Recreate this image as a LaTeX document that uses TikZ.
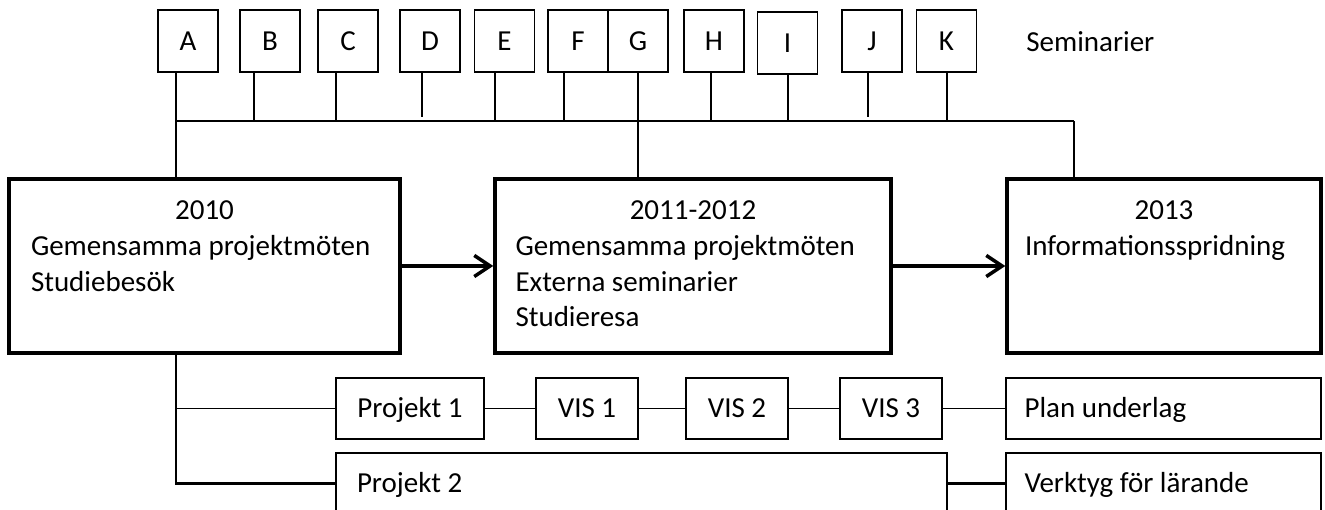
\documentclass[tikz,border=0pt]{standalone}
\usepackage{fontspec}
\setmainfont{Carlito}
\usepackage{tikz}
\usetikzlibrary{arrows.meta, positioning, calc}
\setlength{\parindent}{0pt}
\newcommand{\diagfont}{\fontsize{16.5}{20.4}\selectfont}

\begin{document}
\begin{tikzpicture}[
  seminar/.style={draw, line width=0.9pt, minimum width=1.2cm, minimum height=1.24cm,
                  inner sep=0pt, font=\diagfont, text height=10.5pt, text depth=0pt},
  phase/.style={draw, line width=2pt, minimum height=3.48cm, inner sep=0pt},
  phasetext/.style={anchor=north, inner sep=0pt, font=\diagfont, align=flush left},
  item/.style={draw, line width=0.9pt, minimum height=1.22cm, inner sep=0pt,
               font=\diagfont, text height=10.5pt, text depth=0pt},
  wideitem/.style={item, align=flush left, inner xsep=0.37cm},
  link/.style={line width=0.9pt},
  heavy/.style={line width=1.5pt},
  arrow/.style={-{Straight Barb[length=9pt, width=12pt]}, line width=2pt}
]
  \useasboundingbox (0,0) rectangle (26.5,-10.2);
  \clip (0,0) rectangle (26.5,-10.2);

  % Seminar row
  \node[seminar] (sA) at (3.76,-0.82) {A};
  \node[seminar] (sB) at (5.40,-0.82) {B};
  \node[seminar] (sC) at (6.96,-0.82) {C};
  \node[seminar] (sD) at (8.60,-0.82) {D};
  \node[seminar] (sE) at (10.09,-0.82) {E};
  \node[seminar] (sF) at (11.56,-0.82) {F};
  \node[seminar] (sG) at (12.76,-0.82) {G};
  \node[seminar] (sH) at (14.28,-0.82) {H};
  \node[seminar] (sI) at (15.75,-0.86) {I};
  \node[seminar] (sJ) at (17.44,-0.82) {J};
  \node[seminar] (sK) at (18.93,-0.82) {K};
  \node[anchor=west, inner sep=0pt, font=\diagfont, text height=10.5pt, text depth=0pt]
    (sem) at (20.52,-0.85) {Seminarier};

  % Phases
  \node[phase, minimum width=7.82cm] (p2010) at (4.09,-5.32) {};
  \node[phase, minimum width=7.92cm] (p2011) at (13.86,-5.32) {};
  \node[phase, minimum width=6.28cm] (p2013) at (23.28,-5.32) {};
  \node[phasetext, text width=6.94cm] (t2010) at ([yshift=-0.46cm]p2010.north)
    {\makebox[\hsize]{2010}\\ Gemensamma projektmöten\\ Studiebesök};
  \node[phasetext, text width=7.10cm] (t2011) at ([yshift=-0.46cm]p2011.north)
    {\makebox[\hsize]{2011-2012}\\ Gemensamma projektmöten\\ Externa seminarier\\ Studieresa};
  \node[phasetext, text width=5.56cm] (t2013) at ([yshift=-0.46cm]p2013.north)
    {\makebox[\hsize]{2013}\\ Informationsspridning};

  % Projects row
  \node[item, minimum width=2.96cm] (proj1) at (8.20,-8.17) {Projekt 1};
  \node[item, minimum width=2.04cm] (vis1) at (11.74,-8.17) {VIS 1};
  \node[item, minimum width=2.04cm] (vis2) at (14.74,-8.17) {VIS 2};
  \node[item, minimum width=2.04cm] (vis3) at (17.82,-8.17) {VIS 3};
  \node[wideitem, text width=5.56cm] (plan) at (23.27,-8.17) {Plan underlag};
  \node[wideitem, text width=11.38cm, inner xsep=0.42cm] (proj2) at (12.83,-9.67) {Projekt 2};
  \node[wideitem, text width=5.56cm] (tool) at (23.27,-9.67) {Verktyg för lärande};

  % Seminar bus
  \coordinate (busW) at (3.52,-2.42);
  \coordinate (busE) at (21.48,-2.42);
  \draw[link] (busW |- sA.south) -- (busW |- p2010.north);
  \draw[link] (busW) -- (busE);
  \draw[heavy] (busE) -- (busE |- p2013.north);
  \draw[heavy] (sG.south) -- (sG.south |- p2011.north);

  \coordinate (tB) at (5.08,-2.42);
  \coordinate (tC) at (6.72,-2.42);
  \coordinate (tD) at (8.44,-2.34);
  \coordinate (tE) at (9.90,-2.42);
  \coordinate (tF) at (11.28,-2.42);
  \coordinate (tH) at (14.22,-2.42);
  \coordinate (tI) at (15.76,-2.42);
  \coordinate (tJ) at (17.36,-2.34);
  \coordinate (tK) at (18.94,-2.42);
  \draw[heavy] (tB |- sB.south) -- (tB);
  \draw[link] (tC |- sC.south) -- (tC);
  \draw[heavy] (tD |- sD.south) -- (tD);
  \draw[heavy] (tE |- sE.south) -- (tE);
  \draw[link] (tF |- sF.south) -- (tF);
  \draw[link] (tH |- sH.south) -- (tH);
  \draw[link] (tI |- sI.south) -- (tI);
  \draw[heavy] (tJ |- sJ.south) -- (tJ);
  \draw[heavy] (tK |- sK.south) -- (tK);

  % Phase arrows
  \draw[arrow] (p2010) -- (p2011);
  \draw[arrow] (p2011) -- (p2013);

  % Project links
  \coordinate (root) at (busW |- p2010.south);
  \draw[link] (root) |- (proj1);
  \draw[heavy] (root) |- (proj2);
  \draw[link] (proj1) -- (vis1);
  \draw[link] (vis1) -- (vis2);
  \draw[link] (vis2) -- (vis3);
  \draw[link] (vis3) -- (plan);
  \draw[heavy] (proj2) -- (tool);
\end{tikzpicture}
\end{document}
